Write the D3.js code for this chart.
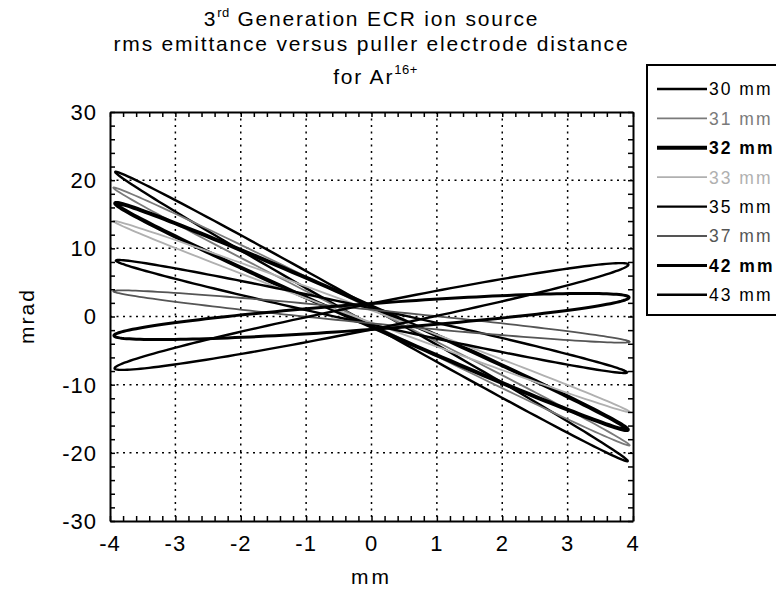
<!DOCTYPE html>
<html>
<head>
<meta charset="utf-8">
<script src="https://cdn.jsdelivr.net/npm/d3@7"></script>
<style>
  body { margin: 0; background: #fff; }
  text { font-family: "Liberation Sans", Arial, Helvetica, sans-serif; fill: #000; }
</style>
</head>
<body>
<svg id="chart" width="776" height="590"></svg>
<script>
// puller electrode distance for each emittance ellipse
const distances = ["30 mm", "31 mm", "32 mm", "33 mm", "35 mm", "37 mm", "42 mm", "43 mm"];
// ellipse: x of the right tip (mm), x' at that tip (mrad),
// half height of the ellipse at x = 0 (mrad)
const tipX = [3.92, 3.95, 3.92, 3.95, 3.91, 3.95, 3.94, 3.93];
const tipY = [-21.2, -18.9, -16.6, -14.0, -8.2, -3.7, 2.8, 7.6];
const halfAt0 = [1.3, 1.1, 1.5, 0.9, 1.2, 1.0, 1.9, 1.9];

const xTicks = [-4, -3, -2, -1, 0, 1, 2, 3, 4];
const yTicks = [-30, -20, -10, 0, 10, 20, 30];

// line look per series (same order as distances)
const strokeColor = ["#000", "#7a7a7a", "#000", "#b0b0b0", "#000", "#555", "#000", "#000"];
const strokeW = [2.4, 1.8, 4, 1.8, 2.4, 1.8, 3, 2.4];

const svg = d3.select("#chart");
const plot = { left: 110, right: 633, top: 112, bottom: 521 };
const midX = (plot.left + plot.right) / 2;

const x = d3.scaleLinear().domain([-4, 4]).range([plot.left, plot.right]);
const y = d3.scaleLinear().domain([-30, 30]).range([plot.bottom, plot.top]);

// title
const title = svg.append("text")
  .attr("text-anchor", "middle")
  .attr("font-size", 21)
  .attr("letter-spacing", 1.8);
const t1 = title.append("tspan").attr("x", midX).attr("y", 26);
t1.append("tspan").text("3");
t1.append("tspan").attr("dy", -9).attr("font-size", 13).attr("letter-spacing", 0.5).text("rd");
t1.append("tspan").attr("dy", 9).text(" Generation ECR ion source");
title.append("tspan").attr("x", midX).attr("y", 51)
  .text("rms emittance versus puller electrode distance");
const t3 = title.append("tspan").attr("x", midX + 4).attr("y", 84);
t3.append("tspan").text("for Ar");
t3.append("tspan").attr("dy", -10).attr("font-size", 13).attr("letter-spacing", 0.5).text("16+");

// dotted grid
const grid = svg.append("g")
  .attr("stroke", "#000")
  .attr("stroke-width", 1.5)
  .attr("stroke-dasharray", "2,4.5");
grid.selectAll(".gx")
  .data(xTicks.slice(1, -1))
  .enter().append("line")
  .attr("x1", d => x(d)).attr("x2", d => x(d))
  .attr("y1", plot.top).attr("y2", plot.bottom);
grid.selectAll(".gy")
  .data(yTicks.slice(1, -1))
  .enter().append("line")
  .attr("y1", d => y(d)).attr("y2", d => y(d))
  .attr("x1", plot.left).attr("x2", plot.right);

// emittance ellipses
const steps = d3.range(0, 360, 2).map(a => a * Math.PI / 180);
const line = d3.line()
  .x(p => x(p[0]))
  .y(p => y(p[1]))
  .curve(d3.curveLinearClosed);

const series = distances.map((name, i) => ({
  name: name,
  pts: steps.map(t => [tipX[i] * Math.cos(t), tipY[i] * Math.cos(t) + halfAt0[i] * Math.sin(t)]),
  color: strokeColor[i],
  width: strokeW[i]
}));

svg.append("g")
  .selectAll("path")
  .data(series)
  .enter().append("path")
  .attr("d", d => line(d.pts))
  .attr("fill", "none")
  .attr("stroke", d => d.color)
  .attr("stroke-width", d => d.width)
  .attr("stroke-linejoin", "round");

// frame and ticks (inside, all four sides)
const minorX = d3.range(-40, 41, 2).map(v => v / 10);
const minorY = d3.range(-30, 31, 2);

function frameAxis(axis, transform) {
  const g = svg.append("g").attr("transform", transform).call(axis);
  g.select(".domain").attr("stroke-width", 2);
  g.selectAll(".tick line").attr("stroke-width", 1.5);
  g.selectAll("text").remove();
  return g;
}
frameAxis(d3.axisBottom(x).tickValues(minorX).tickSizeInner(-5).tickSizeOuter(0), `translate(0,${plot.bottom})`);
frameAxis(d3.axisTop(x).tickValues(minorX).tickSizeInner(-5).tickSizeOuter(0), `translate(0,${plot.top})`);
frameAxis(d3.axisLeft(y).tickValues(minorY).tickSizeInner(-5).tickSizeOuter(0), `translate(${plot.left},0)`);
frameAxis(d3.axisRight(y).tickValues(minorY).tickSizeInner(-5).tickSizeOuter(0), `translate(${plot.right},0)`);

// major tick labels
svg.append("g").selectAll("text")
  .data(xTicks)
  .enter().append("text")
  .attr("x", d => x(d))
  .attr("y", 551)
  .attr("text-anchor", "middle")
  .attr("font-size", 22)
  .attr("letter-spacing", 1)
  .text(d => d);
svg.append("g").selectAll("text")
  .data(yTicks)
  .enter().append("text")
  .attr("x", 97)
  .attr("y", d => y(d))
  .attr("dy", "0.36em")
  .attr("text-anchor", "end")
  .attr("font-size", 22)
  .attr("letter-spacing", 1)
  .text(d => d);

// axis titles
svg.append("text")
  .attr("x", midX).attr("y", 584)
  .attr("text-anchor", "middle")
  .attr("font-size", 21)
  .attr("letter-spacing", 3)
  .text("mm");
svg.append("text")
  .attr("transform", "translate(34,316) rotate(-90)")
  .attr("text-anchor", "middle")
  .attr("font-size", 21)
  .attr("letter-spacing", 2)
  .text("mrad");

// legend
const legend = svg.append("g");
legend.append("rect")
  .attr("x", 647).attr("y", 65)
  .attr("width", 140).attr("height", 250)
  .attr("fill", "#fff")
  .attr("stroke", "#000")
  .attr("stroke-width", 2);
const item = legend.selectAll(".item")
  .data(series)
  .enter().append("g")
  .attr("transform", (d, i) => `translate(0,${89 + i * 29.4})`);
item.append("line")
  .attr("x1", 657).attr("x2", 707)
  .attr("stroke", d => d.color)
  .attr("stroke-width", d => d.width);
item.append("text")
  .attr("x", 709)
  .attr("dy", "0.36em")
  .attr("font-size", 17.5)
  .attr("letter-spacing", 2)
  .attr("font-weight", d => d.width > 2.5 ? "bold" : "normal")
  .style("fill", d => d.color)
  .text(d => d.name);
</script>
</body>
</html>
